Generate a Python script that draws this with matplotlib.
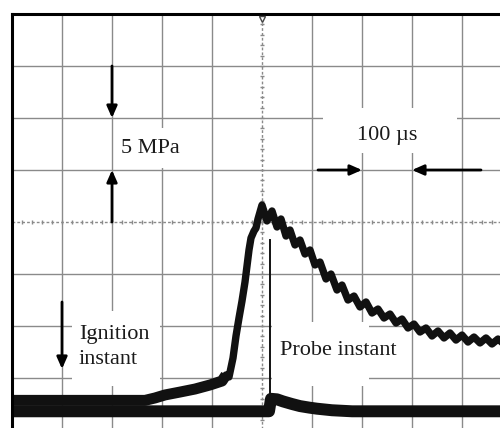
import numpy as np
import matplotlib.pyplot as plt
from matplotlib.patches import Rectangle

# oscilloscope screen: 10 x 8 divisions, 100 us/div, 5 MPa/div, trigger at centre
t_pressure = [-500, -404, -324, -234, -214, -194, -164, -134, -104, -80, -72, -66,
              -58, -52, -46, -40, -34, -30, -26, -22, -16, -12, -8, -4, 0,
              10, 20, 30, 38, 48, 56, 66, 76, 86, 96, 106, 116, 128, 138, 150, 160,
              172, 184, 196, 208, 220, 232, 244, 256, 268, 280, 292, 304, 316, 328,
              340, 352, 364, 376, 388, 400, 412, 424, 436, 448, 460, 472, 484, 500]
p_pressure = [2.85, 2.85, 2.85, 2.85, 3.08, 3.37, 3.65, 3.94, 4.33, 4.71, 5.29, 5.10,
              6.92, 9.04, 10.77, 12.40, 14.23, 15.77, 17.31, 18.46, 19.13, 19.42, 20.29, 20.96, 21.63,
              20.10, 21.06, 19.52, 20.29, 18.65, 19.23, 17.79, 18.27, 16.92, 17.31, 15.87, 16.15, 14.52, 15.00, 13.46, 13.94,
              12.50, 12.88, 11.83, 12.31, 11.25, 11.63, 10.77, 11.15, 10.29, 10.67, 9.81, 10.19, 9.42, 9.81,
              9.04, 9.52, 8.85, 9.33, 8.65, 9.13, 8.46, 8.94, 8.37, 8.85, 8.27, 8.75, 8.27, 8.65]

t_probe = [-500, 14, 18, 30, 42, 60, 76, 95, 110, 140, 180, 500]
v_probe = [1.8, 1.8, 3.0, 2.95, 2.75, 2.5, 2.3, 2.15, 2.05, 1.9, 1.8, 1.8]
t_spike = 16
spike_top = 18.27

grid_c = "#8a8a8a"
ink = "#111111"

fig = plt.figure(figsize=(5.0, 4.28), dpi=100)
ax = fig.add_axes([0.024, -0.0047, 1.0, 0.972])
ax.set_xlim(-500, 500)
ax.set_ylim(0, 40)
ax.set_xticks([])
ax.set_yticks([])
for s in ax.spines.values():
    s.set_linewidth(2.2)
    s.set_color("black")

# graticule
for t in range(-500, 501, 100):
    if t != 0:
        ax.axvline(t, color=grid_c, lw=1.0, zorder=0.5)
for p in range(0, 41, 5):
    if p != 20:
        ax.axhline(p, color=grid_c, lw=1.0, zorder=0.5)
ax.axvline(0, color=grid_c, lw=1.0, ls=(0, (2, 1.5)), zorder=0.5)
ax.axhline(20, color=grid_c, lw=1.0, ls=(0, (2, 1.5)), zorder=0.5)
ax.vlines(np.arange(-500, 501, 20), 19.8, 20.2, color=grid_c, lw=1.0, zorder=0.5)
ax.hlines(np.arange(0, 41, 1), -4, 4, color=grid_c, lw=1.0, zorder=0.5)
ax.plot(0, 39.55, marker="v", ms=5, mfc="white", mec="#444444", mew=1.0,
        clip_on=False, zorder=4)

# white backgrounds behind the labels
for x0, x1, y0, y1 in [(-288, -152, 25.19, 29.04), (122, 390, 26.63, 30.96),
                       (-380, -204, 4.23, 11.44), (20, 214, 4.23, 10.38)]:
    ax.add_patch(Rectangle((x0, y0), x1 - x0, y1 - y0, facecolor="white",
                           edgecolor="none", zorder=1))

# traces
t_arr = np.array(t_pressure)
p_arr = np.array(p_pressure)
ax.plot(t_probe, v_probe, color=ink, lw=8.6, solid_capstyle="butt", zorder=2)
ax.plot([t_spike, t_spike], [v_probe[1], spike_top], color=ink, lw=1.4, zorder=2)
ax.plot(t_arr, p_arr, color=ink, lw=5.3, zorder=2)
pre = t_arr <= -72
ax.plot(t_arr[pre], p_arr[pre], color=ink, lw=7.9, solid_capstyle="butt", zorder=2)

# annotations
arrow = dict(arrowstyle="-|>,head_length=0.5,head_width=0.22", lw=2.0,
             color="black", shrinkA=0, shrinkB=0, mutation_scale=14)
for start, end in [((-300, 35), (-300, 30)), ((-300, 20), (-300, 25)),
                   ((112, 25), (200, 25)), ((438, 25), (300, 25)),
                   ((-400, 12.31), (-400, 5.87))]:
    ax.annotate("", xy=end, xytext=start, arrowprops=arrow, zorder=3)

font = dict(family="Liberation Serif", size=16, color="#1a1a1a", zorder=3)
ax.text(-282, 27.11, "5 MPa", ha="left", va="center", **font)
ax.text(250, 28.27, "100 \u00b5s", ha="center", va="center", **font)
ax.text(-366, 7.98, "Ignition\ninstant", ha="left", va="center", linespacing=1.45, **font)
ax.text(36, 7.60, "Probe instant", ha="left", va="center", **font)

fig.savefig("out.png", dpi=100)
